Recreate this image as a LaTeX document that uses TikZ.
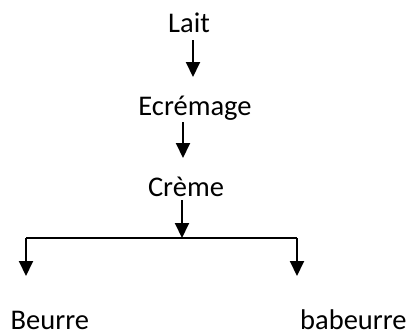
\documentclass[tikz,border=0pt]{standalone}
\usepackage{fontspec}
\setmainfont{Carlito}
\usetikzlibrary{arrows.meta}
\begin{document}
\begin{tikzpicture}[x=1bp,y=-1bp,
  lbl/.style={inner sep=0pt, anchor=base, font=\fontsize{28.5bp}{34bp}\selectfont},
  link/.style={line width=2bp},
  arr/.style={link, -{Triangle[width=14bp,length=15bp]}}]
\useasboundingbox (0,0) rectangle (412,335);
\node[lbl] (lait) at (189,32) {Lait};
\node[lbl] (ecr) at (195,115) {Ecrémage};
\node[lbl] (creme) at (186,196) {Crème};
\node[lbl,anchor=base west] (beurre) at (10.5,329) {Beurre};
\node[lbl,anchor=base west] (babeurre) at (300,329) {babeurre};
\coordinate (a1) at (193,77);
\coordinate (a2) at (183,158);
\coordinate (j) at (182,238);
\coordinate (L) at (26,238);
\coordinate (R) at (297,238);
\coordinate (bl) at (26,276);
\coordinate (br) at (297,276);
\draw[arr, shorten <=8bp] (lait.south -| a1) -- (a1);
\draw[arr, shorten <=2bp] (ecr.south -| a2) -- (a2);
\draw[arr, shorten <=4bp] (creme.south -| j) -- (j);
\draw[link] (L) -- (R);
\draw[arr] (L) -- (bl);
\draw[arr] (R) -- (br);
\end{tikzpicture}
\end{document}
